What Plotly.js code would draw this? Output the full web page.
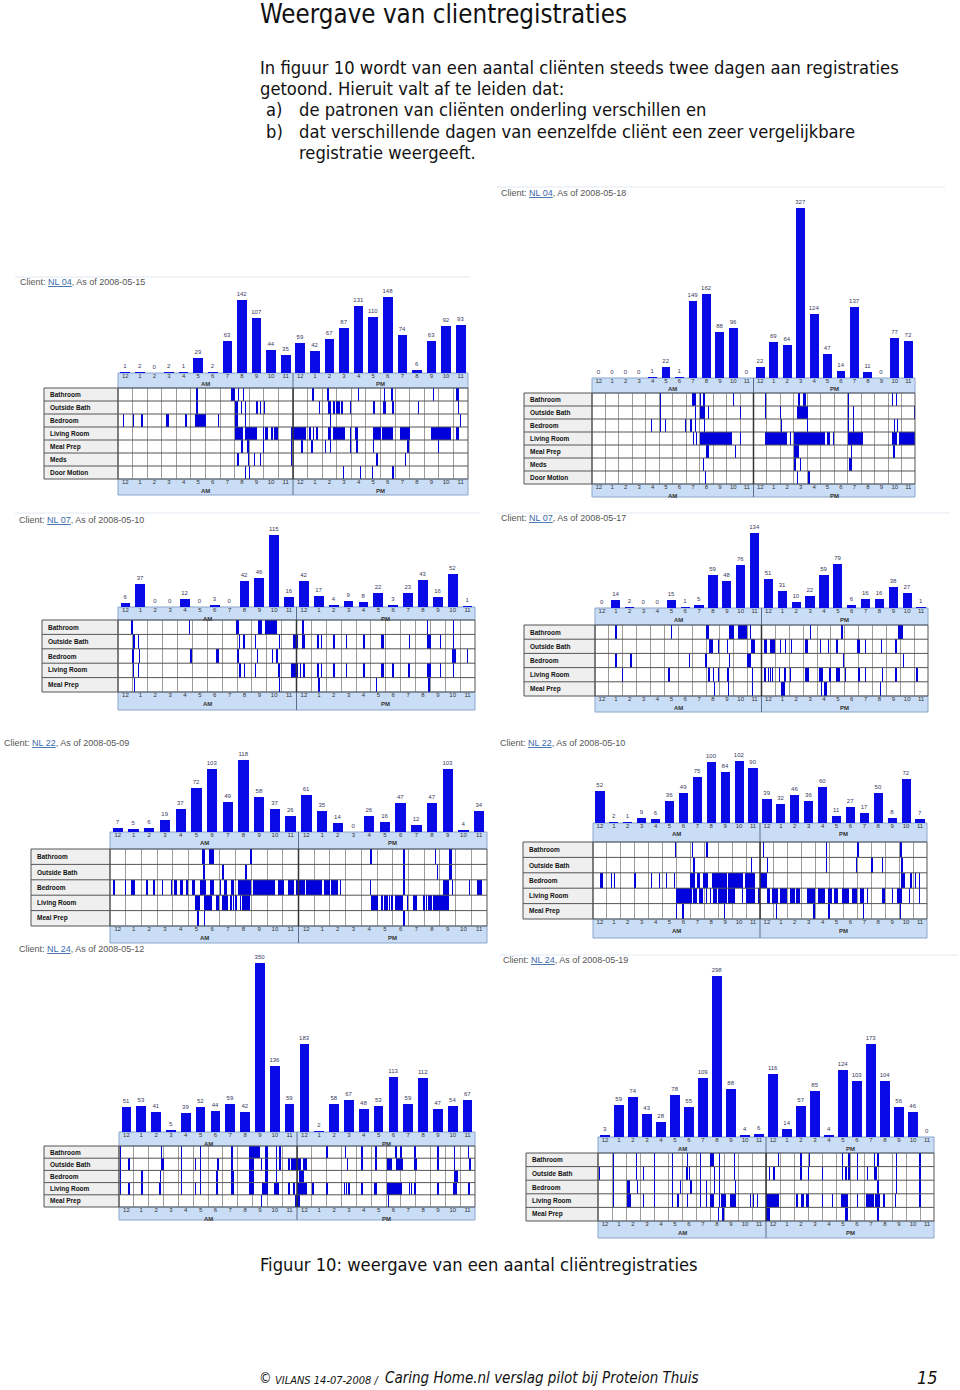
<!DOCTYPE html>
<html><head><meta charset="utf-8">
<script src="https://cdn.plot.ly/plotly-3.0.1.min.js"></script>
<style>html,body{margin:0;padding:0;background:#fff}#chart{width:960px;height:1390px}</style>
</head><body><div id="chart"></div>
<script>
// ---------- tick labels / categories ----------
const hourLabels = ['12','1','2','3','4','5','6','7','8','9','10','11','12','1','2','3','4','5','6','7','8','9','10','11'];
const rows7 = ['Bathroom','Outside Bath','Bedroom','Living Room','Meal Prep','Meds','Door Motion'];
const rows5 = ['Bathroom','Outside Bath','Bedroom','Living Room','Meal Prep'];
const clientIds = ['NL 04','NL 04','NL 07','NL 07','NL 22','NL 22','NL 24','NL 24'];
const asOfDates = ['2008-05-15','2008-05-18','2008-05-10','2008-05-17','2008-05-09','2008-05-10','2008-05-12','2008-05-19'];

// ---------- hourly registration counts ----------
const nl04a_counts = [1,2,0,2,1,29,2,63,142,107,44,35,59,42,67,87,131,110,148,74,6,63,92,93];
const nl04b_counts = [0,0,0,0,1,22,1,149,162,88,96,0,22,69,64,327,124,47,14,137,11,0,77,72];
const nl07a_counts = [6,37,0,0,12,0,3,0,42,46,115,16,42,17,4,9,8,22,3,23,43,16,52,1];
const nl07b_counts = [0,14,2,0,0,15,1,5,59,48,76,134,51,31,10,22,59,79,6,16,16,38,27,1];
const nl22a_counts = [7,5,6,19,37,72,103,49,118,58,37,26,61,35,14,0,26,16,47,12,47,103,4,34];
const nl22b_counts = [52,2,1,9,6,36,49,75,100,84,102,90,39,32,46,36,60,11,27,17,50,8,72,7];
const nl24a_counts = [51,53,41,5,39,52,44,59,42,350,136,59,183,2,58,67,48,53,113,59,112,47,54,67];
const nl24b_counts = [3,59,74,43,28,78,55,109,298,88,4,6,116,14,57,85,4,124,103,173,104,56,46,0];

// ---------- sensor events (hour of day; single number = short event, pair = [start,end]) ----------
const nl04a_bathroom = [5.37,[7.77,8.05],8.23,8.57,13.33,[14.33,14.45],16.46,18.24,18.74,21.6,[23.2,23.38]];
const nl04a_outside = [5.37,[8.05,8.23],8.41,[8.69,8.8],9.49,9.71,10.01,13.76,[14.4,14.63],[14.74,14.86],[14.97,15.2],[15.31,15.43],15.89,[17.49,17.6],[18.17,18.4],18.81,20.57,23.31];
const nl04a_bedroom = [0.34,1.03,1.6,[3.31,3.47],4.62,[5.26,6.06],6.86,[8.0,8.23],8.69,14.51,[23.43,23.54]];
const nl04a_living = [[8.0,8.6],[8.7,9.55],9.94,[10.1,10.29],10.51,[10.7,10.97],[11.84,12.91],[13.07,13.21],13.37,[13.6,13.71],[14.4,14.63],[14.74,15.54],15.89,[16.23,16.46],[17.49,18.0],[18.08,18.86],[19.31,20.0],[21.49,22.86],[23.2,23.38]];
const nl04a_meal = [8.46,[8.85,8.98],9.94,11.84,[12.57,12.69],13.26,14.17,14.51,15.89,[16.34,16.46],17.49,19.84,21.94];
const nl04a_meds = [8.18,8.91,9.33,9.71,11.84,[17.67,17.83],19.66];
const nl04a_door = [8.69,8.98,15.43,16.57,[17.42,17.49],[18.81,18.93]];

const nl04b_bathroom = [5.02,[7.42,7.74],7.99,[8.24,8.36],10.47,12.82,[15.34,15.46],[15.71,15.88],19.0,22.27,22.59];
const nl04b_outside = [5.02,7.62,[7.99,8.36],8.61,10.96,12.82,13.98,[15.22,16.08],19.0,19.37,23.92];
const nl04b_bedroom = [4.4,5.07,5.44,6.93,[7.3,7.42],7.67,8.29,14.05,15.96,19.0,19.37,22.46,22.64];
const nl04b_living = [7.5,7.74,[7.99,10.39],10.96,[12.82,14.47],14.72,[15.04,17.32],[17.44,17.69],[17.89,18.01],[19.0,20.16],[22.27,22.64],[22.81,24]];
const nl04b_meal = [[8.49,8.73],10.59,[15.04,15.39],19.25,22.39];
const nl04b_meds = [8.24,[15.04,15.17],15.46,[19.12,19.3]];
const nl04b_door = [8.36,15.22,16.08];

const nl07a_bathroom = [[0.9,1.01],[4.76,4.87],[7.96,8.12],[9.38,9.65],[9.87,10.66],[12.4,12.52],20.75,[22.5,22.61]];
const nl07a_outside = [[1.01,1.12],1.35,[8.12,8.21],8.43,9.2,10.81,[11.78,12.11],[12.38,12.56],13.39,13.64,14.47,15.32,16.49,[17.68,17.86],19.56,[20.8,21.02],21.65,22.5];
const nl07a_bedroom = [0.96,[1.39,1.5],4.87,[6.62,6.77],8.03,9.35,10.36,[10.63,10.77],[22.43,22.72],23.44];
const nl07a_living = [[1.01,1.08],1.35,[8.12,8.3],8.48,9.2,[10.77,10.88],[11.66,12.07],12.23,12.45,13.39,13.64,14.47,15.3,16.49,[17.68,17.86],18.44,[19.47,19.63],[20.8,21.02],21.65,22.5];
const nl07a_meal = [[1.08,1.17],10.81,[13.46,13.57],17.32,[20.86,20.97]];

const nl07b_bathroom = [[1.44,1.58],5.45,[7.99,8.23],[9.67,10.01],[10.27,10.97],11.16,15.48,17.76,[21.84,22.2]];
const nl07b_outside = [[8.23,8.47],8.83,9.53,[11.23,11.52],[12.19,12.43],[12.6,12.96],13.32,13.68,14.11,[15.12,15.36],16.2,16.8,[17.4,17.52],[18.91,19.08],19.44,20.59,[21.6,21.79]];
const nl07b_bedroom = [[1.44,1.58],[2.52,2.64],6.79,[7.92,8.09],9.67,[10.92,11.21],17.88,22.2];
const nl07b_living = [1.92,5.28,[8.11,8.28],8.52,8.83,[9.53,9.67],[11.28,11.4],[12.19,12.3],12.45,12.6,12.75,13.25,[13.63,13.8],14.04,15.12,15.2,15.28,15.36,[16.13,16.44],[16.87,16.99],[17.4,17.64],18.0,[18.96,19.08],19.44,20.69,[21.6,21.79],23.16];
const nl07b_meal = [8.59,9.6,11.28,[13.39,13.68],16.27,[16.51,16.75],[20.52,20.64]];

const nl22a_bathroom = [[5.87,6.02],[6.29,6.61],8.92,16.58,18.67,20.69,[21.61,21.76]];
const nl22a_outside = [[5.91,6.02],7.15,8.6,18.67,20.8,[21.61,21.76]];
const nl22a_bedroom = [0.21,0.96,[1.34,1.56],2.3,[2.73,2.88],3.31,3.88,[4.05,4.27],[4.48,4.65],4.86,[5.23,5.44],[5.76,6.08],[6.36,6.61],7.0,[7.23,7.42],[7.68,7.89],[8.15,9.0],[9.1,10.5],[10.71,11.09],[11.31,11.73],[11.84,12.4],[12.5,13.5],[13.6,14.0],[14.1,14.51],[14.61,14.72],[16.53,16.64],18.67,21.23,[21.33,21.55],21.76,22.83,[23.36,23.68]];
const nl22a_living = [[5.44,5.76],[5.97,6.51],[6.72,6.93],[7.15,7.5],7.65,7.8,[7.95,8.1],8.25,[8.4,8.92],[16.64,17.07],17.28,17.45,17.6,17.75,[17.9,18.03],[18.13,18.67],18.88,[19.31,19.52],19.95,20.1,20.25,20.4,[20.59,21.55]];
const nl22a_meal = [5.55,5.97,[18.67,18.77]];

const nl22b_bathroom = [5.88,7.08,[8.11,8.28],12.19,16.75,19.0,[22.08,22.2]];
const nl22b_outside = [[7.2,7.32],11.35,12.48,16.75,18.89,[19.97,20.09],20.76,22.15];
const nl22b_bedroom = [[0.48,0.72],1.27,1.51,[2.95,3.12],4.15,4.75,5.21,5.83,[6.96,7.32],[7.44,7.68],[7.92,8.28],[8.52,9.6],[9.7,10.8],[10.9,11.64],[12.0,12.48],[22.15,22.39],22.8,23.11,[23.4,23.52]];
const nl22b_living = [[5.93,7.08],[7.2,7.44],[7.61,7.92],8.09,8.4,[8.64,8.88],[8.95,9.6],[9.72,10.2],10.68,[10.97,11.64],11.88,[12.48,12.72],[12.89,13.3],[13.45,13.92],[14.16,14.5],[14.6,14.88],[15.36,15.96],[16.2,16.68],[16.92,17.2],[17.35,17.64],[17.88,18.36],[18.6,18.96],[19.2,19.44],19.68,[20.76,21.0],21.48,[21.84,22.2],22.68,23.4];
const nl22b_meal = [5.95,[6.43,6.53],9.43,13.13,15.84,16.92,19.39,[22.03,22.15]];

const nl24a_bathroom = [0.07,2.82,4.16,5.46,7.58,[8.79,9.53],[9.84,10.02],10.58,[10.8,10.91],[13.93,14.11],15.23,16.33,17.29,[18.63,18.74],18.97,[19.86,20.04],21.47,22.59,23.51];
const nl24a_outside = [0.07,0.63,[2.86,3.04],4.16,5.1,5.46,6.62,7.58,[8.79,9.13],9.57,[9.84,10.02],10.58,10.8,[11.36,11.5],[11.6,12.3],[12.4,12.7],15.34,16.33,17.29,[18.07,18.41],[18.7,19.15],[19.86,20.08],21.47,22.59,23.62];
const nl24a_bedroom = [0.07,[1.48,1.59],2.77,4.16,5.46,[6.55,6.67],[7.58,7.78],[8.79,9.13],[9.84,10.02],10.58,[12.14,12.48],[22.59,22.88]];
const nl24a_living = [0.07,0.63,[1.48,1.59],[2.68,2.82],4.16,5.1,5.46,[6.55,6.67],[7.58,7.78],[8.79,9.13],[9.64,10.06],[10.47,10.8],11.41,11.76,[12.03,12.66],13.04,[13.93,14.11],15.16,15.3,15.45,16.33,[17.18,17.36],[18.07,19.08],19.53,19.68,[19.86,20.04],21.47,[22.55,22.77],23.55];
const nl24a_meal = [9.57,[11.88,12.21],18.12];

const nl24b_bathroom = [1.07,2.73,3.99,5.25,6.37,[7.25,7.37],[8.03,8.27],8.63,9.7,12.83,14.45,15.04,17.42,17.89,18.49,19.68,19.96,21.27,22.96];
const nl24b_outside = [0.07,1.07,2.73,3.21,3.99,5.25,6.32,6.49,7.25,8.27,8.63,9.7,[12.19,12.31],[12.5,12.67],14.45,14.99,15.99,17.42,17.66,17.89,18.49,19.2,[19.68,19.91],21.27,22.96];
const nl24b_bedroom = [1.07,[2.09,2.28],[2.76,2.88],3.99,5.25,5.85,[6.56,6.73],7.25,7.68,8.27,8.63,9.77,[19.91,20.1],[21.27,21.39],22.96];
const nl24b_living = [1.07,[2.09,2.33],3.23,3.99,5.25,5.66,6.37,7.25,7.68,[8.03,8.27],8.63,[8.79,9.15],[9.46,9.86],10.84,11.07,11.36,[12.02,12.9],14.16,[14.52,14.69],[14.88,15.09],15.99,16.71,[17.35,17.89],18.49,[19.15,19.68],[19.8,20.15],20.39,21.22,22.96];
const nl24b_meal = [[8.56,8.67],[8.86,9.03],[12.02,12.26],[17.61,17.89],19.96];

// ---------- page layout (pixel geometry of each panel) ----------
const panels = [
 {counts:nl04a_counts, rows:rows7, events:[nl04a_bathroom,nl04a_outside,nl04a_bedroom,nl04a_living,nl04a_meal,nl04a_meds,nl04a_door],
  x0:118,x1:468,lab0:44,base:373,top:297,gridTop:388,gridBot:479,bandBot:495,tx:18,ty:282,sep:[15,470,277]},
 {counts:nl04b_counts, rows:rows7, events:[nl04b_bathroom,nl04b_outside,nl04b_bedroom,nl04b_living,nl04b_meal,nl04b_meds,nl04b_door],
  x0:592,x1:915,lab0:524,base:378,top:208,gridTop:393,gridBot:484,bandBot:497,tx:499,ty:193,sep:[497,945,187]},
 {counts:nl07a_counts, rows:rows5, events:[nl07a_bathroom,nl07a_outside,nl07a_bedroom,nl07a_living,nl07a_meal],
  x0:118,x1:475,lab0:42,base:607,top:535,gridTop:620,gridBot:692,bandBot:710,tx:17,ty:520,sep:[15,480,513]},
 {counts:nl07b_counts, rows:rows5, events:[nl07b_bathroom,nl07b_outside,nl07b_bedroom,nl07b_living,nl07b_meal],
  x0:595,x1:928,lab0:524,base:608,top:533,gridTop:625,gridBot:696,bandBot:712,tx:499,ty:518,sep:[497,950,513]},
 {counts:nl22a_counts, rows:rows5, events:[nl22a_bathroom,nl22a_outside,nl22a_bedroom,nl22a_living,nl22a_meal],
  x0:110,x1:487,lab0:31,base:832,top:760,gridTop:849,gridBot:926,bandBot:943,tx:2,ty:743,sep:null},
 {counts:nl22b_counts, rows:rows5, events:[nl22b_bathroom,nl22b_outside,nl22b_bedroom,nl22b_living,nl22b_meal],
  x0:593,x1:927,lab0:523,base:823,top:761,gridTop:842,gridBot:919,bandBot:938,tx:498,ty:743,sep:null},
 {counts:nl24a_counts, rows:rows5, events:[nl24a_bathroom,nl24a_outside,nl24a_bedroom,nl24a_living,nl24a_meal],
  x0:119,x1:475,lab0:44,base:1132,top:963,gridTop:1146,gridBot:1207,bandBot:1220,tx:17,ty:949,sep:null},
 {counts:nl24b_counts, rows:rows5, events:[nl24b_bathroom,nl24b_outside,nl24b_bedroom,nl24b_living,nl24b_meal],
  x0:598,x1:934,lab0:526,base:1137,top:976,gridTop:1153,gridBot:1221,bandBot:1238,tx:501,ty:960,sep:[500,958,955]}
];

const W=960, H=1390;
const fx = x => x/W, fy = y => 1 - y/H;
const hourTicks = hourLabels.map((_,i)=>i+0.5);
const BLUE = '#0a0ae6';
const docFont = 'DejaVu Sans Condensed, DejaVu Sans, sans-serif';
const chartFont = 'Liberation Sans, Arial, sans-serif';

const data = [];
const layout = {
  width:W, height:H, margin:{l:0,r:0,t:0,b:0},
  paper_bgcolor:'#ffffff', plot_bgcolor:'rgba(0,0,0,0)',
  showlegend:false, barmode:'overlay', bargap:0,
  font:{family:chartFont, color:'#333'},
  shapes:[], annotations:[]
};

const sfx = n => n===1 ? '' : String(n);

panels.forEach((p, idx) => {
  const k = idx+1, g = idx+9;
  const xa = 'x'+sfx(k), ya = 'y'+sfx(k), xg = 'x'+g, yg = 'y'+g;
  const maxV = Math.max(...p.counts);

  data.push({type:'bar', x:hourTicks, y:p.counts, width:0.66,
    text:p.counts.map(String), textposition:'outside', constraintext:'none', cliponaxis:false,
    textfont:{size:6, color:'#3a3a60', family:chartFont},
    marker:{color:BLUE, line:{width:0}}, xaxis:xa, yaxis:ya, hoverinfo:'skip'});

  const ys=[], xs=[], bs=[];
  p.rows.forEach((r,j) => {
    p.events[j].forEach(e => {
      const s = Array.isArray(e) ? e[0] : e;
      const en = Array.isArray(e) ? e[1] : e + 0.09;
      ys.push(r); xs.push(en - s); bs.push(s);
    });
  });
  data.push({type:'bar', orientation:'h', y:ys, x:xs, base:bs, width:1,
    marker:{color:'#0000dd', line:{width:0}}, xaxis:xg, yaxis:yg, hoverinfo:'skip'});

  const tickAxis = {range:[0,24], tickmode:'array', tickvals:hourTicks, ticktext:hourLabels, ticks:'',
    ticklabelstandoff:-2,
    showgrid:false, zeroline:false, showline:false, fixedrange:true,
    tickfont:{size:6, color:'#333', family:chartFont}};

  layout['xaxis'+sfx(k)] = Object.assign({}, tickAxis, {domain:[fx(p.x0), fx(p.x1)], anchor:ya});
  layout['yaxis'+sfx(k)] = {domain:[fy(p.base), fy(p.top)], range:[0,maxV], visible:false, fixedrange:true, anchor:xa};
  layout['xaxis'+g] = Object.assign({}, tickAxis, {domain:[fx(p.x0), fx(p.x1)], anchor:yg,
    minor:{tickmode:'linear', tick0:0, dtick:1, showgrid:true, gridcolor:'#9c9c9c', gridwidth:1, ticks:''}});
  layout['yaxis'+g] = {domain:[fy(p.gridBot), fy(p.gridTop)], type:'category', categoryorder:'array', categoryarray:p.rows,
    range:[p.rows.length-0.5, -0.5], showticklabels:false, showgrid:false, zeroline:false, fixedrange:true, anchor:xg};

  // hour bands
  [[p.base, p.gridTop, xa], [p.gridBot, p.bandBot, xg]].forEach(([yt, yb, ax]) => {
    layout.shapes.push({type:'rect', xref:ax+' domain', x0:0, x1:1, yref:'paper', y0:fy(yb), y1:fy(yt),
      fillcolor:'#c9ddf6', line:{color:'#8aa6c9', width:1}, layer:'below'});
    layout.shapes.push({type:'line', xref:ax, x0:12, x1:12, yref:'paper', y0:fy(yb), y1:fy(yt),
      line:{color:'#5a6f8c', width:1}});
    ['AM','PM'].forEach((t,i) => layout.annotations.push({text:'<b>'+t+'</b>', xref:ax+' domain', x:0.25+0.5*i,
      yref:'paper', y:fy(yt+11.5), xanchor:'center', yanchor:'middle', showarrow:false,
      font:{size:6, color:'#333', family:chartFont}}));
  });

  // label column
  layout.shapes.push({type:'rect', xref:'paper', x0:fx(p.lab0), x1:fx(p.x0), yref:yg+' domain', y0:0, y1:1,
    fillcolor:'#efefef', line:{color:'#555', width:1}, layer:'below'});
  p.rows.forEach((r,j) => layout.annotations.push({text:'<b>'+r+'</b>', xref:'paper', x:fx(p.lab0+4), xanchor:'left',
    yref:yg, y:j, yanchor:'middle', showarrow:false, font:{size:6.5, color:'#111', family:chartFont}}));
  for (let j=1; j<p.rows.length; j++) {
    layout.shapes.push({type:'line', xref:'paper', x0:fx(p.lab0), x1:fx(p.x1), yref:yg, y0:j-0.5, y1:j-0.5,
      line:{color:'#555', width:1}});
  }
  layout.shapes.push({type:'rect', xref:xg+' domain', x0:0, x1:1, yref:yg+' domain', y0:0, y1:1,
    line:{color:'#555', width:1}});
  layout.shapes.push({type:'line', xref:xg, x0:12, x1:12, yref:yg+' domain', y0:0, y1:1,
    line:{color:'#333', width:1.5}});

  // panel title
  layout.annotations.push({text:'Client: <span style="text-decoration:underline;color:#3a6aa8">'+clientIds[idx]+'</span>, As of '+asOfDates[idx],
    xref:'paper', yref:'paper', x:fx(p.tx), y:fy(p.ty), xanchor:'left', yanchor:'middle', showarrow:false,
    font:{size:9, color:'#555', family:chartFont}});
  if (p.sep) layout.shapes.push({type:'line', xref:'paper', yref:'paper', x0:fx(p.sep[0]), x1:fx(p.sep[1]),
    y0:fy(p.sep[2]), y1:fy(p.sep[2]), line:{color:'#e2e8f0', width:1}});
});

// ---------- document text ----------
const docText = [
  {t:'Weergave van clientregistraties', x:258, y:14, s:25.7},
  {t:'In figuur 10 wordt van een aantal cliënten steeds twee dagen aan registraties', x:258, y:67, s:18.2},
  {t:'getoond. Hieruit valt af te leiden dat:', x:258, y:88, s:18.2},
  {t:'a)', x:264, y:109, s:18.2},
  {t:'de patronen van cliënten onderling verschillen en', x:297, y:109, s:18.2},
  {t:'b)', x:264, y:131, s:18.2},
  {t:'dat verschillende dagen van eenzelfde cliënt een zeer vergelijkbare', x:297, y:131, s:18.2},
  {t:'registratie weergeeft.', x:297, y:152, s:18.2},
  {t:'Figuur 10: weergave van een aantal cliëntregistraties', x:258, y:1264, s:18.2}
];
docText.forEach(d => layout.annotations.push({text:d.t, xref:'paper', yref:'paper', x:fx(d.x), y:fy(d.y),
  xanchor:'left', yanchor:'middle', showarrow:false, font:{size:d.s, color:'#111', family:docFont}}));
layout.annotations.push({text:'©', xref:'paper', yref:'paper', x:fx(257), y:fy(1378), xanchor:'left', yanchor:'middle',
  showarrow:false, font:{size:14, color:'#111', family:docFont}});
layout.annotations.push({text:'<i>VILANS 14-07-2008 /</i>', xref:'paper', yref:'paper', x:fx(273), y:fy(1380), xanchor:'left', yanchor:'middle',
  showarrow:false, font:{size:11, color:'#111', family:docFont}});
layout.annotations.push({text:'<i>Caring Home.nl verslag pilot bij Proteion Thuis</i>', xref:'paper', yref:'paper', x:fx(383), y:fy(1378), xanchor:'left', yanchor:'middle',
  showarrow:false, font:{size:15, color:'#111', family:docFont}});
layout.annotations.push({text:'<i>15</i>', xref:'paper', yref:'paper', x:fx(940), y:fy(1377), xanchor:'right', yanchor:'middle',
  showarrow:false, font:{size:18, color:'#111', family:docFont}});

Plotly.newPlot('chart', data, layout, {staticPlot:true, displayModeBar:false});
</script></body></html>
